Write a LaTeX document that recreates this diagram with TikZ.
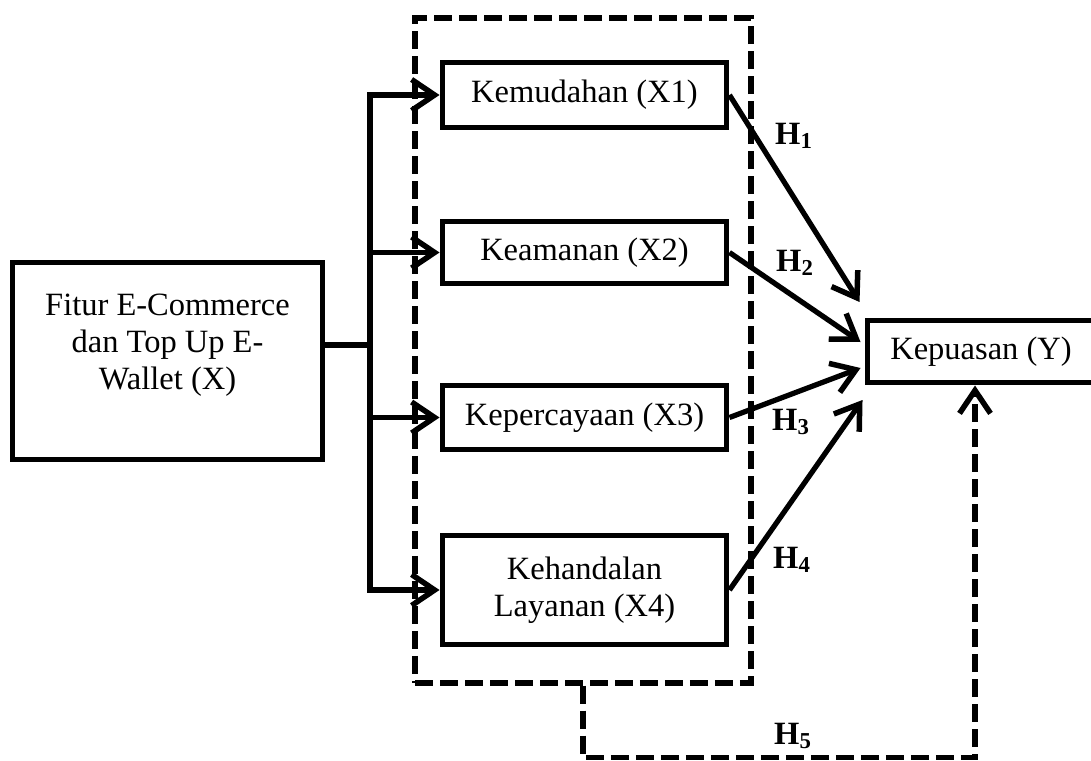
\documentclass[tikz,border=0pt]{standalone}
\usepackage{fontspec}
\setmainfont{Liberation Serif}
\usetikzlibrary{arrows.meta}
\tikzset{
  box/.style={draw,line width=0.1cm,align=center,inner sep=0pt,minimum width=5.7cm},
  grpbox/.style={draw,line width=0.11cm,dash pattern=on 0.36cm off 0.14cm,
    minimum width=6.72cm,minimum height=13.3cm,inner sep=0pt},
  hyp/.style={font=\fontsize{18.5}{21}\selectfont\bfseries},
  arr/.style={line width=0.105cm,-{Straight Barb[length=4.6mm,width=6.2mm,line width=0.11cm]}},
  dashlink/.style={line width=0.11cm,dash pattern=on 0.36cm off 0.14cm}
}
\begin{document}
\begin{tikzpicture}[x=0.02cm,y=-0.02cm,font=\fontsize{18.5}{21}\selectfont]
      \useasboundingbox (0,0) rectangle (1091,760);
      \draw
        (583,350.5) node[grpbox] (grp){}
        (167.5,361) node[box,minimum width=6.22cm,minimum height=3.96cm] (fitur){}
        (584.5,95) node[box,minimum height=1.32cm] (x1){Kemudahan (X1)}
        (584.5,252.5) node[box,minimum height=1.26cm] (x2){Keamanan (X2)}
        (584.5,417.5) node[box,minimum height=1.3cm] (x3){Kepercayaan (X3)}
        (584.5,590) node[box,minimum height=2.2cm] (x4){Kehandalan\\Layanan (X4)}
        (981,351.5) node[box,minimum width=4.56cm,minimum height=1.26cm] (y){Kepuasan (Y)}
        (370,345) coordinate (bus);
      \node[align=center] (fiturtext) at ([yshift=0.32cm]fitur.center)
        {Fitur E-Commerce\\dan Top Up E-\\Wallet (X)};
      \draw
        (794,136) node[hyp] (h1){H\textsubscript{1}}
        (795,263) node[hyp] (h2){H\textsubscript{2}}
        (791,422) node[hyp] (h3){H\textsubscript{3}}
        (792,560) node[hyp] (h4){H\textsubscript{4}}
        (793,736) node[hyp] (h5){H\textsubscript{5}};
      \begin{scope}[line width=0.105cm]
        \draw (fitur.east |- bus) to (bus);
        \draw[arr] (bus) |- (x1.west);
        \draw[arr] (bus) |- (x2.west);
        \draw[arr] (bus) |- (x3.west);
        \draw[arr] (bus) |- (x4.west);
        \draw[arr] (x1.east) to ([shift={(-5,-49.5)}]y.west);
        \draw[arr] (x2.east) to ([shift={(-4,-9.5)}]y.west);
        \draw[arr] (x3.east) to ([shift={(-4,16.5)}]y.west);
        \draw[arr] (x4.east) to ([shift={(-2,48.5)}]y.west);
        \draw[dashlink,arr] (grp.south) -- ++(0,72) -| ([xshift=-0.12cm]y.south);
      \end{scope}
    \end{tikzpicture}
\end{document}
